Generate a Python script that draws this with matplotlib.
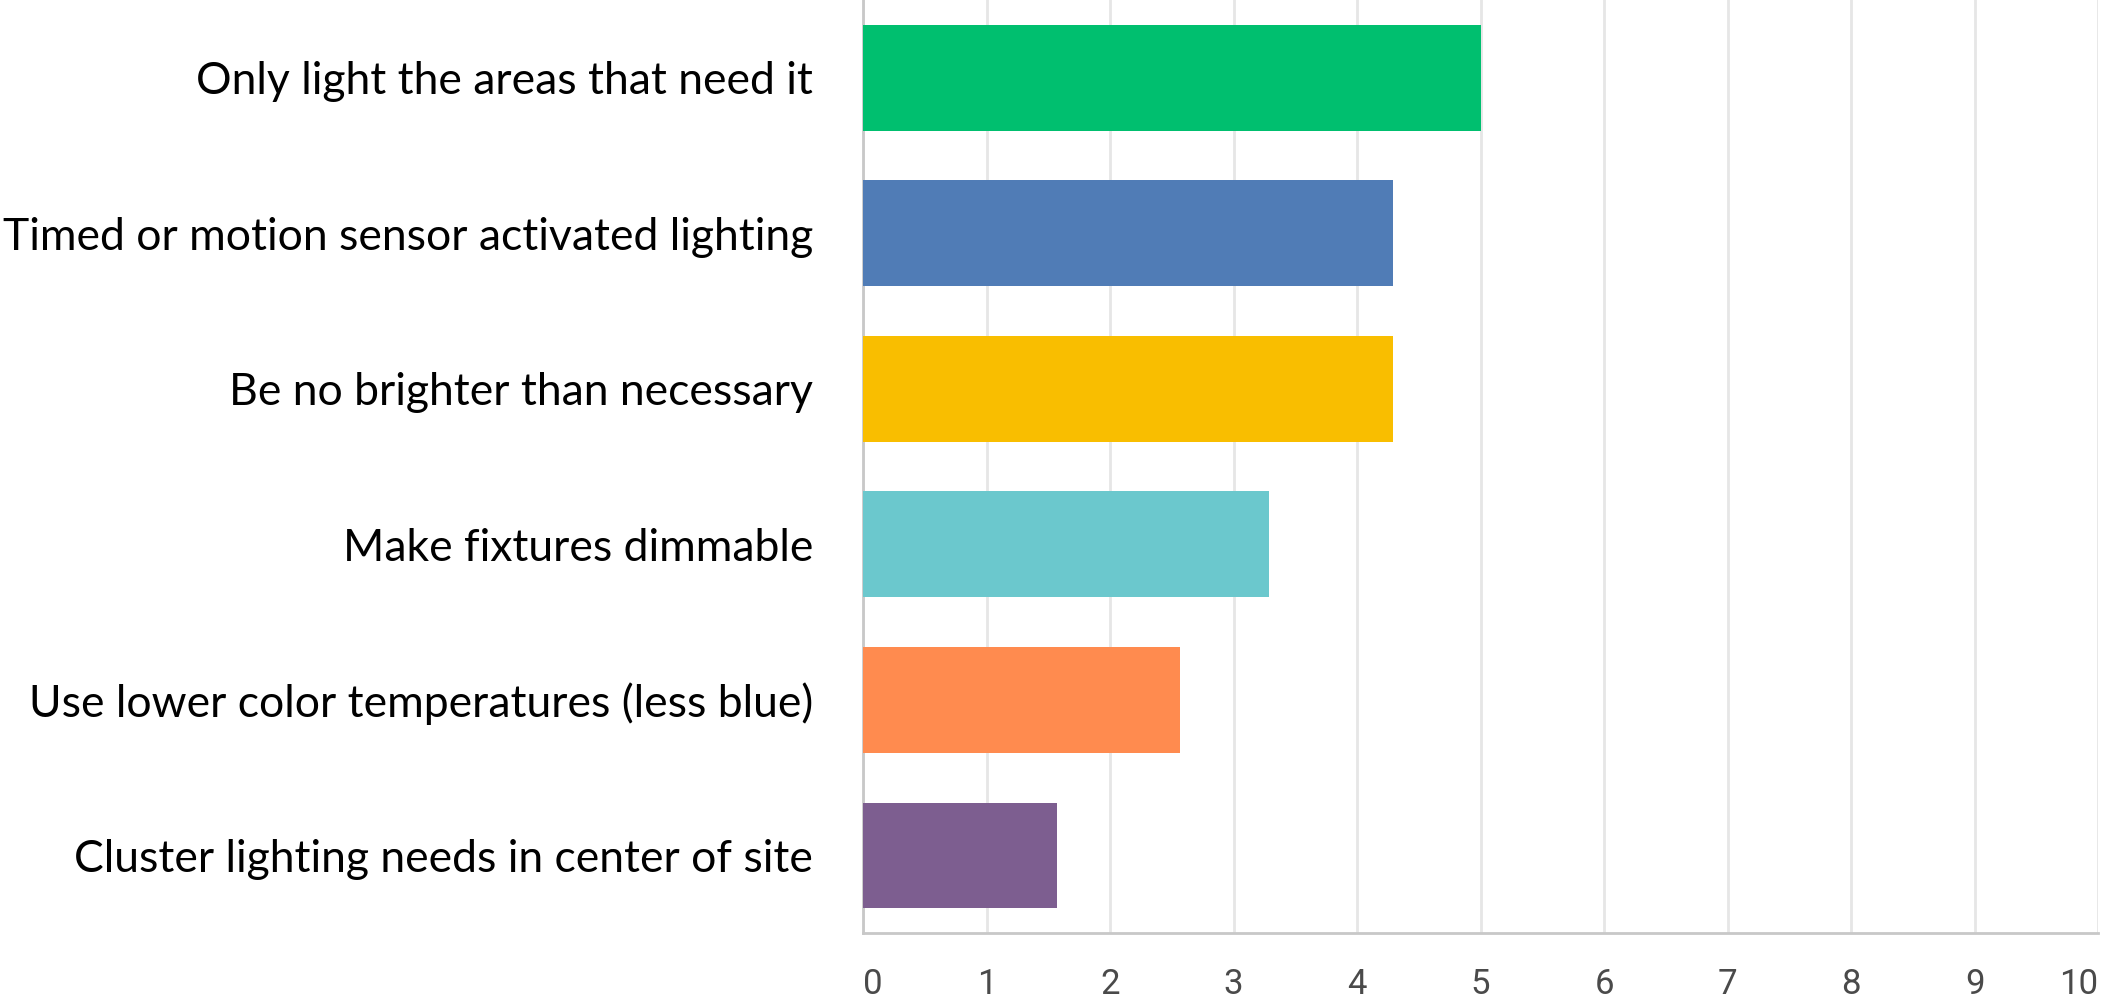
"""Horizontal bar chart: average ranking of outdoor-lighting practices."""

import matplotlib
matplotlib.use("Agg")
import matplotlib.pyplot as plt
import numpy as np

# -- data ---------------------------------------------------------------------
CATEGORIES = [
    "Only light the areas that need it",
    "Timed or motion sensor activated lighting",
    "Be no brighter than necessary",
    "Make fixtures dimmable",
    "Use lower color temperatures (less blue)",
    "Cluster lighting needs in center of site",
]
SCORES = [5.0, 4.29, 4.29, 3.29, 2.57, 1.57]
COLORS = ["#00BF6F", "#507CB6", "#F9BE00", "#6BC8CD", "#FF8B4F", "#7D5E90"]
XTICKS = list(range(0, 11))

GRID = "#e6e6e6"
AXIS = "#c8c8c8"
TICK = "#4a4a4a"

fig = plt.figure(figsize=(21.05, 9.97), dpi=100)
ax = fig.add_axes([0.41, 0.064, 0.5867, 0.936])

y = np.arange(len(CATEGORIES))
ax.barh(y, SCORES, height=0.68, color=COLORS, zorder=3)

ax.set_xlim(0, 10)
ax.set_ylim(5.5, -0.5)
ax.set_xticks(XTICKS)
ax.set_yticks(y)
ax.set_yticklabels(CATEGORIES, fontfamily="Lato", fontsize=32, color="black")
ax.tick_params(axis="x", length=0, labelsize=25, labelcolor=TICK, pad=25)
ax.tick_params(axis="y", length=0, pad=36)
xlabels = ax.get_xticklabels()
for lbl in xlabels:
    lbl.set_fontfamily("Roboto")
# first and last labels hug the plot edges, as in the source
xlabels[0].set_horizontalalignment("left")
xlabels[-1].set_horizontalalignment("right")

ax.grid(axis="x", color=GRID, lw=2, zorder=0)
ax.grid(axis="y", visible=False)
for side in ("top", "right"):
    ax.spines[side].set_visible(False)
for side in ("left", "bottom"):
    ax.spines[side].set_color(AXIS)
    ax.spines[side].set_linewidth(2)

fig.savefig("out.png", dpi=100, facecolor="white")
